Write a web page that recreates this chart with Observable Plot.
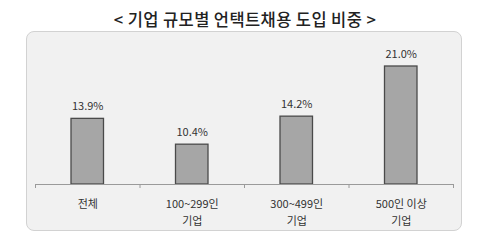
<!DOCTYPE html>
<html>
<head>
<meta charset="utf-8">
<script src="https://cdn.jsdelivr.net/npm/d3@7"></script>
<script src="https://cdn.jsdelivr.net/npm/@observablehq/plot@0.6"></script>
<style>
  body { margin: 0; background: #fff; font-family: "Noto Sans CJK KR", sans-serif; }
  #wrap { position: relative; width: 500px; height: 241px; overflow: hidden; }
  #title { position: absolute; left: 0; top: 6px; width: 490px; text-align: center;
           font-size: 16.5px; font-weight: 500; color: #222; letter-spacing: 0.4px; line-height: 26px; }
  #panel { position: absolute; left: 26px; top: 31px; width: 436px; height: 200px;
           background: #f1f1f1; border: 1px solid #d2d2d2; border-radius: 8px; box-sizing: border-box; }
  #chart { position: absolute; left: 0; top: 32px; }
  #chart svg { background: transparent; }
</style>
</head>
<body>
<div id="wrap">
  <div id="title">&lt; 기업 규모별 언택트채용 도입 비중 &gt;</div>
  <div id="panel"></div>
  <div id="chart"></div>
</div>
<script>
const categories = ["전체", "100~299인\n기업", "300~499인\n기업", "500인 이상\n기업"];
const values = [13.9, 10.4, 14.2, 21.0];
const valueLabels = ["13.9%", "10.4%", "14.2%", "21.0%"];
const title = "< 기업 규모별 언택트채용 도입 비중 >";
const yDomain = [5, 21];

const data = categories.map((c, i) => ({cat: c, idx: i, value: values[i], label: valueLabels[i]}));

const plot = Plot.plot({
  width: 500,
  height: 209,
  marginLeft: 35,
  marginRight: 47,
  marginTop: 34,
  marginBottom: 57,
  style: {background: "transparent", fontFamily: "'Noto Sans CJK KR', sans-serif"},
  x: {type: "linear", domain: [0, categories.length], axis: null},
  y: {domain: yDomain, axis: null},
  marks: [
    Plot.rect(data, {x1: "idx", x2: d => d.idx + 1, y1: yDomain[0], y2: "value",
      insetLeft: 36, insetRight: 36, fill: "#a6a6a6", stroke: "#4a4a4a", strokeWidth: 1.3}),
    Plot.text(data, {x: d => d.idx + 0.5, y: "value", text: "label", dy: -12,
      fontSize: 11, fill: "#333", letterSpacing: "-0.3px"}),
    Plot.ruleY([yDomain[0]], {stroke: "#9a9a9a", strokeWidth: 1}),
    Plot.axisX({ticks: d3.range(categories.length + 1), tickFormat: () => "", tickSize: 4,
      stroke: "#9a9a9a", anchor: "bottom", label: null}),
    Plot.text(data, {x: d => d.idx + 0.5, y: yDomain[0], text: "cat", dy: 11, lineHeight: 1.58,
      lineAnchor: "top", fontSize: 11, fill: "#333", letterSpacing: "-0.3px"})
  ]
});
document.getElementById("chart").appendChild(plot);
</script>
</body>
</html>
